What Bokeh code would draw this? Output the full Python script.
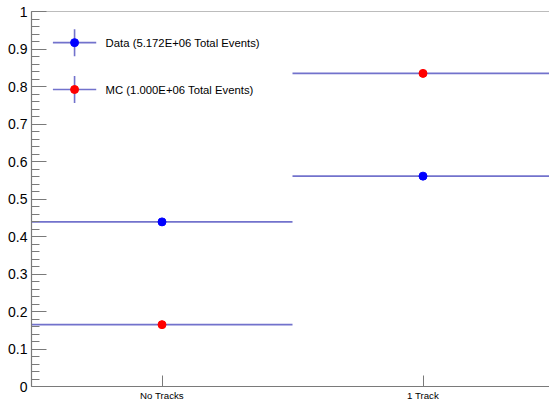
from bokeh.plotting import figure
from bokeh.models import (Range1d, FixedTicker, CustomJSTickFormatter, Span, ColumnDataSource)
from bokeh.embed import file_html
from bokeh.resources import INLINE
from bokeh.core.properties import value

# ---- data ----
categories = ["No Tracks", "1 Track"]
bin_centers = [0.5, 1.5]
bin_half_width = [0.5, 0.5]
data_frac = [0.439, 0.561]
mc_frac = [0.165, 0.835]
data_label = "Data (5.172E+06 Total Events)"
mc_label = "MC (1.000E+06 Total Events)"
y_major = [0.0, 0.1, 0.2, 0.3, 0.4, 0.5, 0.6, 0.7, 0.8, 0.9, 1.0]

# ---- styling ----
FONT = "Liberation Sans"
ERR_COLOR = "#7272cc"
AXIS_COLOR = "#7a7a7a"

p = figure(frame_width=518, frame_height=375, output_backend="svg", toolbar_location=None,
           x_range=Range1d(0, 518 / 261), y_range=Range1d(0, 1),
           min_border_left=31, min_border_top=11, min_border_right=0, min_border_bottom=14)
p.outline_line_color = None
p.xgrid.visible = False
p.ygrid.visible = False
p.background_fill_color = "white"
p.border_fill_color = "white"

# top frame line
p.add_layout(Span(location=1.0, dimension="width", line_color=AXIS_COLOR, line_width=1.2))

# axes
yax = p.yaxis[0]
minor = [round(i * 0.02, 2) for i in range(51)]
yax.ticker = FixedTicker(ticks=y_major, minor_ticks=minor)
yax.formatter = CustomJSTickFormatter(code="return String(Math.round(tick*10)/10);")
yax.major_tick_in = 15
yax.major_tick_out = 0
yax.minor_tick_in = 8
yax.minor_tick_out = 0
yax.major_label_standoff = 4
yax.major_label_text_font = FONT
yax.major_label_text_font_size = "14px"
yax.major_label_text_color = "black"
yax.axis_line_color = AXIS_COLOR
yax.major_tick_line_color = AXIS_COLOR
yax.minor_tick_line_color = AXIS_COLOR
yax.axis_line_width = 1.2

xax = p.xaxis[0]
xax.ticker = FixedTicker(ticks=bin_centers, minor_ticks=[])
xax.major_label_overrides = {c: lab for c, lab in zip(bin_centers, categories)}
xax.major_tick_in = 11
xax.major_tick_out = 0
xax.major_label_standoff = 3
xax.major_label_text_font = FONT
xax.major_label_text_font_size = "9.7px"
xax.major_label_text_color = "black"
xax.axis_line_color = AXIS_COLOR
xax.major_tick_line_color = AXIS_COLOR
xax.axis_line_width = 1.2

# ---- data marks ----
def series(vals, color):
    src = ColumnDataSource(dict(
        x=bin_centers, y=vals,
        x0=[c - h for c, h in zip(bin_centers, bin_half_width)],
        x1=[c + h for c, h in zip(bin_centers, bin_half_width)],
    ))
    p.segment(x0="x0", y0="y", x1="x1", y1="y", source=src, line_color=ERR_COLOR, line_width=1.6)
    p.scatter(x="x", y="y", source=src, size=8, fill_color=color, line_color=color)

series(data_frac, "#0000ff")
series(mc_frac, "#ff0000")

# ---- legend (positions in data units of the fixed ranges) ----
LEG_X = 0.165
LEG_HALF_W = 0.083
LEG_HALF_H = 0.036
LEG_TEXT_X = 0.284
LEG_Y = [0.917, 0.792]
for y, color, lab in zip(LEG_Y, ["#0000ff", "#ff0000"], [data_label, mc_label]):
    p.segment(x0=[LEG_X - LEG_HALF_W], y0=[y], x1=[LEG_X + LEG_HALF_W], y1=[y],
              line_color=ERR_COLOR, line_width=1.6)
    p.segment(x0=[LEG_X], y0=[y - LEG_HALF_H], x1=[LEG_X], y1=[y + LEG_HALF_H],
              line_color=ERR_COLOR, line_width=1.6)
    p.scatter(x=[LEG_X], y=[y], size=8, fill_color=color, line_color=color)
    p.text(x=[LEG_TEXT_X], y=[y], text=[lab], text_font=value(FONT), text_font_size="11.3px",
           text_baseline="middle", text_align="left", text_color="black")

open("out.html", "w").write(file_html(p, INLINE))
